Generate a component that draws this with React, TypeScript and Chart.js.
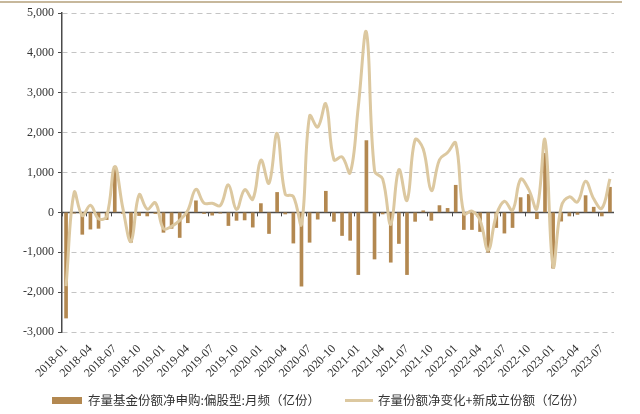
import React, { useEffect, useRef } from "react";
import { Chart, registerables } from "chart.js";

Chart.register(...registerables);

const months: string[] = [
  "2018-01","2018-02","2018-03","2018-04","2018-05","2018-06","2018-07","2018-08","2018-09","2018-10","2018-11","2018-12",
  "2019-01","2019-02","2019-03","2019-04","2019-05","2019-06","2019-07","2019-08","2019-09","2019-10","2019-11","2019-12",
  "2020-01","2020-02","2020-03","2020-04","2020-05","2020-06","2020-07","2020-08","2020-09","2020-10","2020-11","2020-12",
  "2021-01","2021-02","2021-03","2021-04","2021-05","2021-06","2021-07","2021-08","2021-09","2021-10","2021-11","2021-12",
  "2022-01","2022-02","2022-03","2022-04","2022-05","2022-06","2022-07","2022-08","2022-09","2022-10","2022-11","2022-12",
  "2023-01","2023-02","2023-03","2023-04","2023-05","2023-06","2023-07","2023-08",
];

// 存量基金份额净申购:偏股型:月频（亿份）
const netSubscription: number[] = [
  -2650, -20, -550, -420, -400, -180, 1150, -30, -750, -80, -90, -30,
  -500, -400, -630, -260, 290, -30, -70, -20, -330, -200, -190, -370,
  220, -530, 500, -40, -770, -1850, -750, -170, 530, -225, -580, -700,
  -1560, 1800, -1170, -40, -1250, -780, -1560, -225, 40, -200, 170, 100,
  680, -430, -430, -480, -1000, -380, -520, -380, 370, 450, -160, 1480,
  -1400, -220, -90, -50, 420, 130, -90, 630,
];

// 存量份额净变化+新成立份额（亿份）
const netChangePlusNew: number[] = [
  -1850, 500, -80, 180, -160, -100, 1150, 100, -730, 440, 80, 240,
  -410, -350, -200, 50, 580, 230, 230, 170, 690, 70, 570, 330,
  1310, 730, 1980, 460, 400, -300, 2420, 2140, 2720, 1320, 1390, 990,
  2650, 4520, 1040, 840, -300, 1070, 300, 1820, 1590, 550, 1320, 1500,
  1740, -30, 30, -200, -950, -70, 280, 50, 830, 570, 90, 1820,
  -1350, 140, 390, 260, 780, 340, 100, 840,
];

const yMin = -3000;
const yMax = 5000;
const yStep = 1000;

const barLabel = "存量基金份额净申购:偏股型:月频（亿份）";
const lineLabel = "存量份额净变化+新成立份额（亿份）";

const BAR_COLOR = "#B38850";
const LINE_COLOR = "#DCC8A0";
const AXIS_COLOR = "#4a4a4a";
const SERIF = "'Liberation Serif', 'Times New Roman', serif";

const zeroLinePlugin = {
  id: "zeroLine",
  beforeDatasetsDraw(chart: any) {
    const { ctx, chartArea, scales } = chart;
    const y0 = scales.y.getPixelForValue(0);
    const xs = scales.x;
    ctx.save();
    ctx.strokeStyle = AXIS_COLOR;
    ctx.lineWidth = 1.5;
    ctx.setLineDash([]);
    ctx.beginPath();
    ctx.moveTo(chartArea.left, y0);
    ctx.lineTo(chartArea.right, y0);
    ctx.stroke();
    const n = months.length;
    const w = (chartArea.right - chartArea.left) / n;
    ctx.lineWidth = 1;
    for (let i = 0; i < n; i += 3) {
      const x = Math.round(xs.getPixelForValue(i) - w / 2) + 0.5;
      ctx.beginPath();
      ctx.moveTo(x, y0);
      ctx.lineTo(x, y0 + 4);
      ctx.stroke();
    }
    ctx.restore();
  },
};

export default function App() {
  const ref = useRef<HTMLCanvasElement | null>(null);

  useEffect(() => {
    if (!ref.current) return;
    const chart = new Chart(ref.current, {
      type: "bar",
      data: {
        labels: months,
        datasets: [
          {
            type: "line",
            label: lineLabel,
            data: netChangePlusNew,
            borderColor: LINE_COLOR,
            backgroundColor: LINE_COLOR,
            borderWidth: 3,
            pointRadius: 0,
            tension: 0.4,
            order: 0,
          } as any,
          {
            type: "bar",
            label: barLabel,
            data: netSubscription,
            backgroundColor: BAR_COLOR,
            barThickness: 3,
            order: 1,
          },
        ],
      },
      options: {
        animation: false,
        responsive: false,
        maintainAspectRatio: false,
        layout: { padding: { top: 13, right: 26, left: 0, bottom: 0 } },
        plugins: {
          legend: { display: false },
          tooltip: { enabled: false },
        },
        scales: {
          x: {
            type: "category",
            offset: true,
            grid: { display: false, drawOnChartArea: false },
            border: { display: false },
            ticks: {
              autoSkip: false,
              maxRotation: 45,
              minRotation: 45,
              padding: 2,
              color: "#333",
              font: { family: SERIF, size: 12 },
              callback: (_v: any, i: number) => (i % 3 === 0 ? months[i] : ""),
            },
            afterFit: (scale: any) => {
              scale.height = 82;
            },
          },
          y: {
            min: yMin,
            max: yMax,
            ticks: {
              stepSize: yStep,
              padding: 4,
              color: "#333",
              font: { family: SERIF, size: 12 },
              callback: (v: any) => Number(v).toLocaleString("en-US"),
            },
            grid: {
              color: "#c4c4c4",
              lineWidth: 1,
              tickColor: AXIS_COLOR,
              tickLength: 4,
            },
            border: { display: true, color: AXIS_COLOR, width: 1.5, dash: [5, 4] },
            afterFit: (scale: any) => {
              scale.width = 62;
            },
          },
        },
      },
      plugins: [zeroLinePlugin],
    });
    return () => chart.destroy();
  }, []);

  return (
    <div style={{ position: "absolute", left: 0, top: 0, width: 640, height: 414, background: "#fff", overflow: "hidden" }}>
      <div style={{ position: "absolute", left: 0, top: 1, width: 622, height: 2, background: "#C7B89C" }} />
      <canvas ref={ref} width={640} height={414} style={{ position: "absolute", left: 0, top: 0, width: 640, height: 414 }} />
      <div style={{ position: "absolute", left: 52, top: 397, width: 30, height: 7, background: BAR_COLOR }} />
      <div
        style={{
          position: "absolute",
          left: 88,
          top: 392,
          fontFamily: "'Noto Sans CJK SC', sans-serif",
          fontSize: 12.5,
          lineHeight: "16px",
          color: "#333",
          whiteSpace: "nowrap",
        }}
      >
        {barLabel}
      </div>
      <div style={{ position: "absolute", left: 345, top: 399, width: 28, height: 3, background: LINE_COLOR }} />
      <div
        style={{
          position: "absolute",
          left: 378,
          top: 392,
          fontFamily: "'Noto Sans CJK SC', sans-serif",
          fontSize: 12.5,
          lineHeight: "16px",
          color: "#333",
          whiteSpace: "nowrap",
        }}
      >
        {lineLabel}
      </div>
    </div>
  );
}
